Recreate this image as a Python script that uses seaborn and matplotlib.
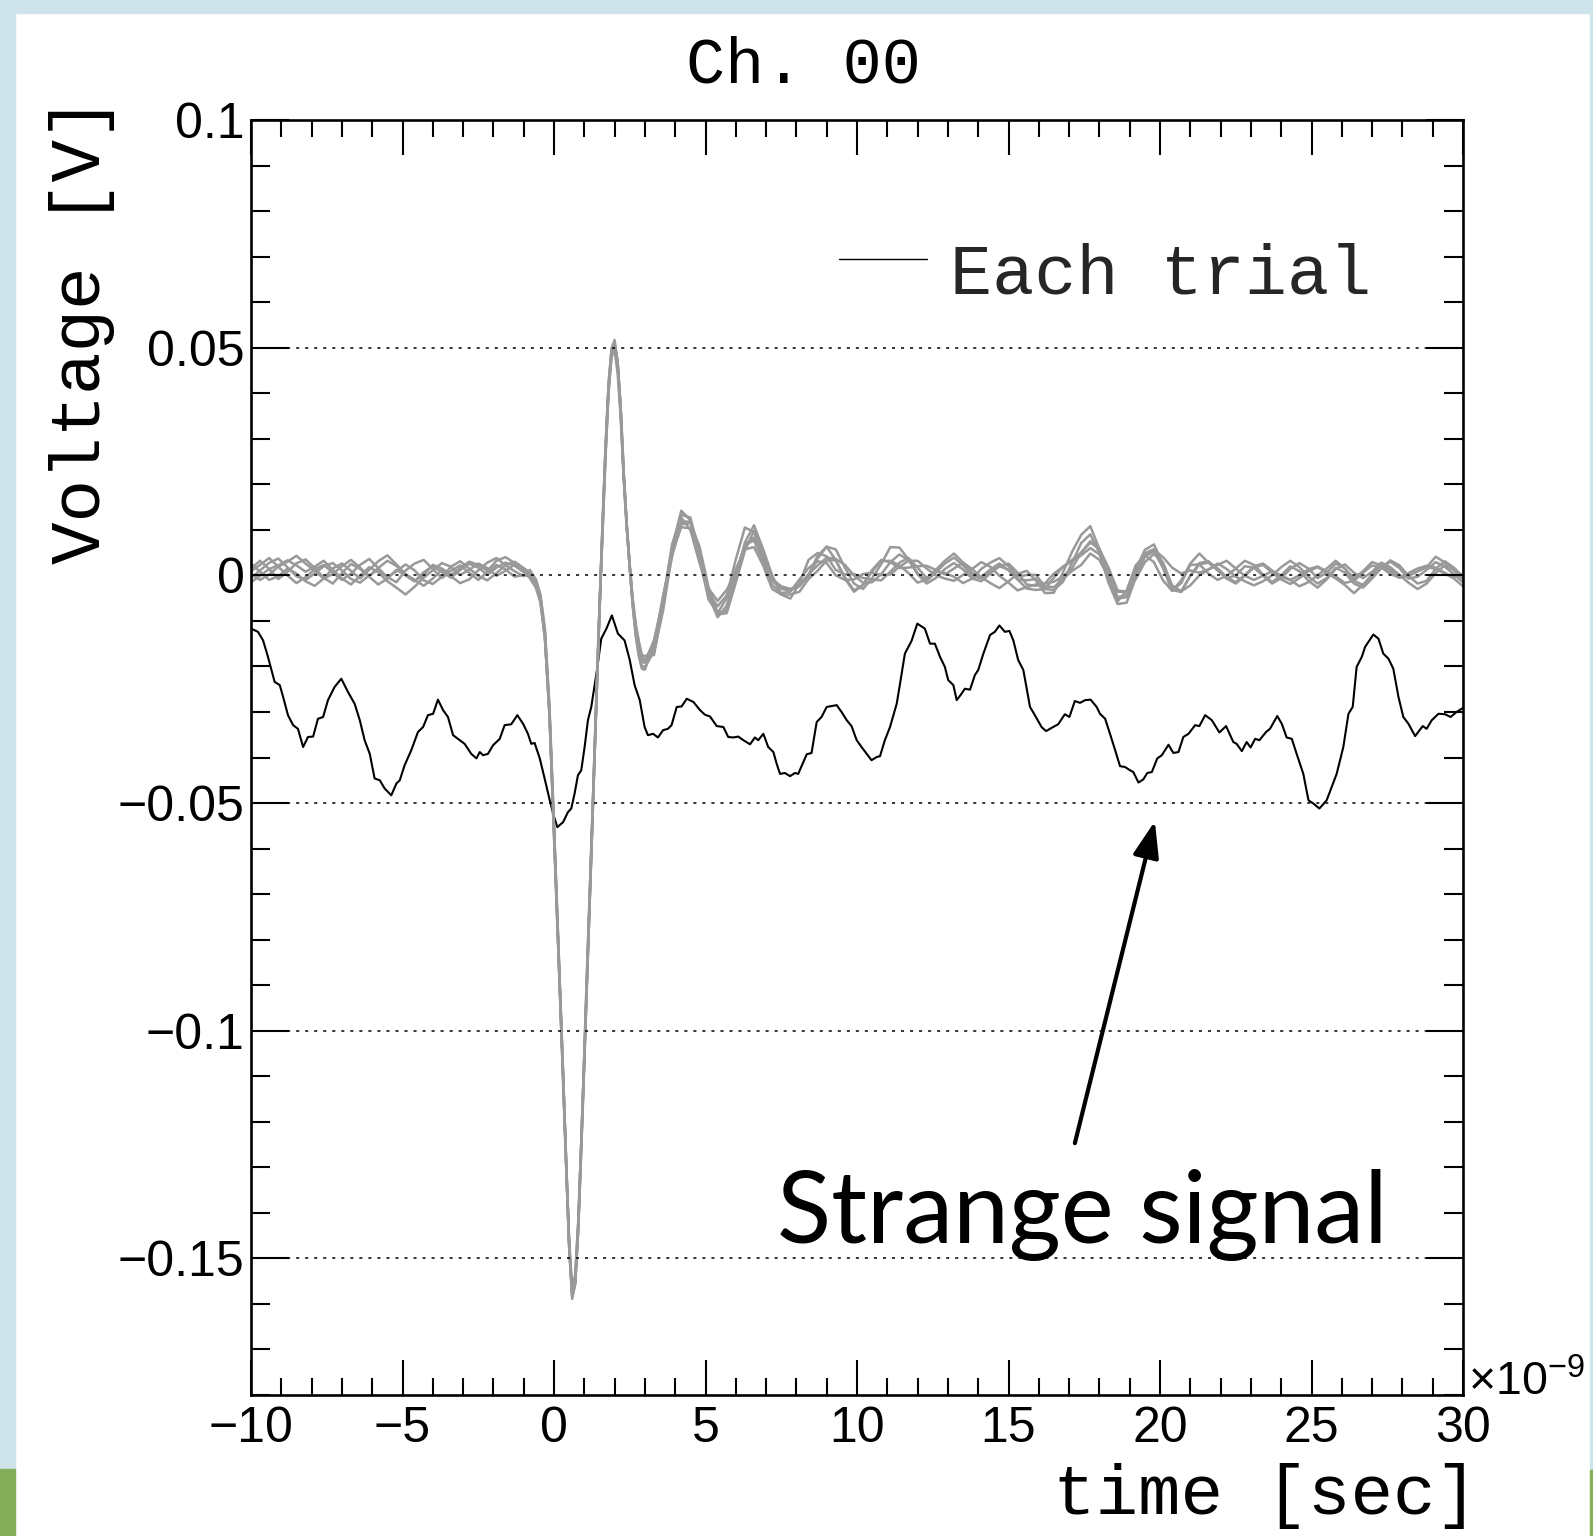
import numpy as np
import pandas as pd
import seaborn as sns
import matplotlib
matplotlib.use("Agg")
import matplotlib.pyplot as plt
from matplotlib.lines import Line2D
from matplotlib.patches import Rectangle
from matplotlib.ticker import MultipleLocator
from matplotlib.font_manager import FontProperties

# ---------------- data (time in ns, voltage in V) ----------------
# "Strange signal" (black trace)
strange_t = [-10.0, -9.77, -9.60, -9.44, -9.22, -9.05, -8.94, -8.78, -8.61, -8.45, -8.28, -8.12, -7.95, -7.79,
             -7.62, -7.46, -7.24, -7.02, -6.80, -6.58, -6.41, -6.25, -6.08, -5.92, -5.75, -5.59, -5.37, -5.20,
             -5.09, -4.93, -4.71, -4.49, -4.32, -4.16, -3.99, -3.83, -3.66, -3.50, -3.33, -3.17, -2.95, -2.73,
             -2.56, -2.45, -2.34, -2.18, -2.01, -1.79, -1.63, -1.41, -1.21, -1.02, -0.86, -0.75, -0.64, -0.47,
             -0.31, -0.14, -0.03, 0.11, 0.30, 0.46, 0.57, 0.68, 0.79, 0.90, 1.01, 1.12, 1.23, 1.40, 1.56, 1.73,
             1.91, 2.11, 2.33, 2.50, 2.66, 2.83, 2.99, 3.10, 3.27, 3.43, 3.60, 3.76,
             3.88, 4.05, 4.21, 4.38, 4.60, 4.82, 4.98, 5.15, 5.37, 5.59, 5.75, 5.92, 6.08, 6.25, 6.47, 6.63,
             6.74, 6.91, 7.07, 7.24, 7.35, 7.46, 7.62, 7.79, 7.95, 8.06, 8.34, 8.50, 8.67, 8.83, 9.00, 9.33,
             9.49, 9.66, 9.82, 9.99, 10.15, 10.48, 10.65, 10.76, 10.92, 11.09, 11.31, 11.42, 11.58, 11.80,
             11.99, 12.24, 12.41, 12.57, 12.74, 12.90, 13.01, 13.18, 13.29, 13.45, 13.56, 13.73, 13.89, 14.00,
             14.17, 14.39, 14.55, 14.70, 14.88, 15.03, 15.16, 15.32, 15.49, 15.71, 15.87, 16.09, 16.24, 16.42,
             16.64, 16.86, 17.01, 17.19, 17.36,
             17.53, 17.71, 17.91, 18.02, 18.19, 18.35, 18.52, 18.68, 18.85, 19.01, 19.12, 19.29, 19.45, 19.58,
             19.73, 19.91, 20.06, 20.28, 20.44, 20.61, 20.77, 20.94, 21.16, 21.30, 21.49, 21.71, 21.96, 22.18,
             22.42, 22.53, 22.70, 22.86, 22.99, 23.14, 23.28, 23.50, 23.63, 23.87, 24.02, 24.18, 24.35, 24.51,
             24.73, 24.90, 25.06, 25.26, 25.50, 25.83, 26.05, 26.22, 26.36, 26.49, 26.66, 26.77, 27.04, 27.21,
             27.37, 27.54, 27.70, 27.87, 28.03, 28.20, 28.42, 28.67, 28.80, 28.97, 29.19, 29.41, 29.59, 29.79,
             30.0]
strange_v = [-0.0117, -0.0124, -0.0143, -0.0179, -0.0234, -0.0241, -0.0267, -0.0307, -0.0329, -0.0337, -0.0377,
             -0.0355, -0.0354, -0.0315, -0.0311, -0.0274, -0.0245, -0.0227, -0.0256, -0.0282, -0.0318, -0.0362,
             -0.0392, -0.0446, -0.0450, -0.0468, -0.0483, -0.0457, -0.0450, -0.0417, -0.0384, -0.0344, -0.0333,
             -0.0307, -0.0304, -0.0273, -0.0296, -0.0311, -0.0351, -0.0359, -0.0370, -0.0392, -0.0402, -0.0388,
             -0.0395, -0.0392, -0.0373, -0.0359, -0.0329, -0.0327, -0.0307, -0.0326, -0.0348, -0.0370, -0.0368,
             -0.0402, -0.0446, -0.0494, -0.0523, -0.0553, -0.0542, -0.0520, -0.0512, -0.0479, -0.0439, -0.0428,
             -0.0377, -0.0318, -0.0289, -0.0216, -0.0139, -0.0117, -0.0088, -0.0128, -0.0143, -0.0186, -0.0241,
             -0.0274, -0.0333, -0.0351, -0.0348, -0.0356, -0.0340, -0.0337,
             -0.0329, -0.0289, -0.0288, -0.0271, -0.0278, -0.0296, -0.0306, -0.0310, -0.0331, -0.0333, -0.0355,
             -0.0356, -0.0354, -0.0362, -0.0371, -0.0356, -0.0362, -0.0348, -0.0377, -0.0388, -0.0414, -0.0436,
             -0.0434, -0.0441, -0.0434, -0.0436, -0.0393, -0.0390, -0.0322, -0.0311, -0.0289, -0.0285, -0.0300,
             -0.0318, -0.0331, -0.0362, -0.0377, -0.0406, -0.0399, -0.0397, -0.0362, -0.0333, -0.0282, -0.0238,
             -0.0172, -0.0144, -0.0106, -0.0117, -0.0150, -0.0150, -0.0179, -0.0201, -0.0230, -0.0241, -0.0274,
             -0.0260, -0.0249, -0.0251, -0.0219, -0.0208, -0.0172, -0.0131, -0.0124, -0.0110, -0.0124, -0.0122,
             -0.0143, -0.0186, -0.0208, -0.0289, -0.0307, -0.0333, -0.0342, -0.0335, -0.0327, -0.0305, -0.0311,
             -0.0276, -0.0280,
             -0.0274, -0.0273, -0.0289, -0.0304, -0.0315, -0.0348, -0.0384, -0.0419, -0.0421, -0.0428, -0.0432,
             -0.0455, -0.0448, -0.0434, -0.0432, -0.0402, -0.0395, -0.0372, -0.0390, -0.0388, -0.0355, -0.0348,
             -0.0329, -0.0331, -0.0307, -0.0318, -0.0345, -0.0331, -0.0366, -0.0370, -0.0386, -0.0366, -0.0378,
             -0.0359, -0.0362, -0.0344, -0.0337, -0.0309, -0.0326, -0.0356, -0.0359, -0.0392, -0.0436, -0.0494,
             -0.0501, -0.0512, -0.0494, -0.0436, -0.0377, -0.0304, -0.0289, -0.0201, -0.0179, -0.0157, -0.0130,
             -0.0139, -0.0172, -0.0183, -0.0205, -0.0267, -0.0311, -0.0326, -0.0353, -0.0331, -0.0337, -0.0318,
             -0.0304, -0.0305, -0.0311, -0.0300, -0.0291]

# Normal trials (grey): common time grid in three segments
t_pre = np.round(np.arange(-10.0, -0.95, 0.3), 2)          # 31 samples
t_pulse = [-0.8, -0.6, -0.45, -0.3, -0.15, 0.0, 0.1, 0.2, 0.3, 0.4, 0.5, 0.6, 0.7, 0.8, 0.9, 1.0,
           1.1, 1.2, 1.3, 1.4, 1.5, 1.6, 1.7, 1.8, 1.9, 2.0, 2.1, 2.2, 2.3, 2.4, 2.5, 2.6, 2.7, 2.8,
           2.9, 3.0]                                        # 36 samples
t_post = np.round(np.arange(3.3, 30.05, 0.3), 2)          # 90 samples

# average trial waveform (V)
mean_pre = [0.0003, 0.0005, 0.0005, 0.0004, 0.0003, 0.0004, 0.0005, 0.0004, 0.0002, 0.0, 0.0002,
            0.0004, 0.0005, 0.0003, 0.0001, 0.0002, 0.0003, 0.0003, 0.0002, 0.0001, 0.0002, 0.0003,
            0.0004, 0.0004, 0.0003, 0.0005, 0.0007, 0.0008, 0.0007, 0.0006, 0.0004]
mean_pulse = [0.0003, -0.0015, -0.005, -0.013, -0.030, -0.056, -0.074, -0.092, -0.110, -0.129, -0.147,
              -0.158, -0.155, -0.143, -0.125, -0.106, -0.086, -0.067, -0.047, -0.027, -0.008, 0.010,
              0.027, 0.041, 0.049, 0.0505, 0.046, 0.036, 0.022, 0.011, 0.002, -0.006, -0.012, -0.016,
              -0.019, -0.0195]
mean_post = [-0.016, -0.006, 0.0054, 0.0121, 0.0109, 0.0043, -0.0035, -0.0077, -0.0062, -0.001, 0.0045,
             0.0068, 0.004, 0.0, -0.003, -0.0048, -0.003, 0.001, 0.004, 0.0048, 0.003, 0.0005, -0.0012,
             -0.0012, 0.0, 0.001, 0.002, 0.0025, 0.002, 0.0008, 0.0, 0.0003, 0.0008, 0.0012, 0.001, 0.0005,
             0.0008, 0.001, 0.0008, 0.0005, 0.0, -0.0008, -0.002, -0.0033, -0.002, 0.001, 0.004, 0.0065,
             0.0072, 0.004, -0.001, -0.0045, -0.003, 0.001, 0.0038, 0.0038, 0.001, -0.0025, -0.002, 0.0005,
             0.0015, 0.001, 0.0008, 0.0005, 0.0003, 0.0005, 0.0008, 0.0005, 0.0, 0.0003, 0.0005, 0.0003, 0.0,
             -0.0003, 0.0, 0.0005, 0.0003, -0.0003, 0.0, 0.0005, 0.001, 0.0012, 0.001, 0.0005, 0.0, -0.0003,
             0.0005, 0.001, 0.0008, 0.0]

# per-trial deviation from the average, in units of 0.15 mV
NOISE_UNIT = 1.5e-4
trial1_dev = ([8, 18, 6, -8, 3, 15, 20, 8, -5, -12, 2, 14, 6, -3, 10, 20, 12, -2, -10, 4, 12, 3, -6, 5, 15, 8, -4, 6, 14, 10, 2]
              + [4, 2, 0, -3, -6, -8, -6, -4, -2, 0, 2, 4, 6, 4, 2, 0, -4, -6, -6, -4, -2, 0, 2, 4, 6, 8, 6, 4, 2, 0, -2, -4, -6, -8, -6, -4]
              + [-5, -12, -4, 8, 12, 5, -6, -10, -3, 8, 15, 10, -2, -8, 0, 10, 6, -5, -12, -6, 4, 12, 8, -3, -10, -5, 6, 14, 9, -2,
                 -8, 2, 12, 18, 8, -4, -10, -2, 8, 5, -6, -14, -8, 2, 10, 6, -4, -10, 0, 12, 8, -2, -9, -3, 7, 13, 6, -5, -11, -4,
                 6, 12, 5, -6, -12, -3, 8, 14, 7, -4, -10, -2, 9, 15, 6, -5, -13, -6, 4, 11, 5, -6, -10, 0, 10, 16, 8, -3, -8, 2])
trial2_dev = ([-6, 4, 15, 22, 10, -4, -10, 0, 12, 18, 6, -8, -14, -2, 8, -4, -12, 5, 16, 22, 8, -6, 4, 12, 2, -10, 0, 10, 4, -6, -2]
              + [-4, -2, 2, 6, 8, 10, 8, 6, 4, 2, 0, -2, -4, -6, -8, -6, -2, 2, 6, 8, 6, 4, 0, -4, -6, -8, -10, -8, -6, -4, 0, 4, 8, 10, 8, 6]
              + [8, 4, 10, 4, -6, -10, -2, 6, 12, 30, 40, 18, 4, -6, 4, 12, 4, -8, -2, 10, 18, 8, -4, -12, -4, 10, 28, 24, 10, -4,
                 -12, -6, 4, 10, 2, -8, -14, -4, 8, 14, 4, -8, -2, 10, 16, 6, -6, -14, -8, 4, 12, 6, -4, 2, 12, 20, 10, -2, -10, -4,
                 8, 14, 4, -8, -2, 10, 6, -4, -12, -6, 6, 16, 10, -2, 4, 14, 8, -6, -14, -6, 4, 12, 4, -8, -2, 10, 16, 6, -4, -10])
trial3_dev = ([15, 2, -10, -4, 8, 0, -12, -18, -6, 10, 16, 4, -8, 6, 20, 28, 14, 0, -8, -16, -6, 6, -4, -14, -8, 4, 14, 20, 10, 2, -4]
              + [6, 4, 2, 0, -2, -4, -2, 0, 2, 4, 6, 8, 10, 8, 4, 0, -2, -4, -2, 0, 2, 4, 6, 4, 2, 0, -2, -4, -2, 0, 2, 4, 6, 8, 10, 12]
              + [-10, -4, 6, 14, 8, -2, 4, 14, 20, 10, 14, 6, -6, -14, -6, 8, 14, 4, -6, -14, -20, -10, 2, 10, 4, -6, -12, -4, 8, 16,
                 10, -2, -10, -16, -6, 6, 14, 6, -6, -14, -22, -12, 0, 10, 4, -8, -16, -10, 2, 12, 18, 8, -4, -12, -6, 6, 12, 2, -10, -18,
                 -10, 2, 12, 6, -4, -12, -20, -12, 0, 10, 18, 10, -2, -10, -4, 8, 2, -10, -18, -8, 4, 14, 8, -4, -12, -6, 6, 14, 6, -2])
trial4_dev = ([-12, -4, 6, 12, 20, 12, 2, 10, 20, 8, -6, -16, -4, 10, 4, -10, -20, -30, -18, -4, 6, 16, 10, -2, 6, 14, 6, -6, 2, 12, 6]
              + [-6, -8, -6, -4, 0, 4, 6, 8, 6, 4, 2, 0, -2, -4, -6, -8, -10, -8, -4, 0, 4, 8, 10, 8, 4, 2, 4, 6, 4, 2, -2, -6, -10, -12, -10, -8]
              + [6, 10, -4, -10, -4, 8, 2, -6, -14, -4, 6, 20, 8, -4, 2, 12, 6, -6, 2, 10, 2, -8, -16, -6, 8, 16, 6, -6, -2, 8,
                 14, 6, -4, 2, 12, 6, -8, -18, -24, -12, 2, 12, 6, -4, -12, -2, 8, 16, 24, 12, 2, -8, -2, 8, 4, -6, -14, -6, 6, 14,
                 22, 12, 2, -8, -14, -4, 6, 12, 4, -8, -16, -6, 6, 14, 4, -8, -16, -24, -14, -2, 8, 2, -8, -4, 6, 14, 24, 12, 2, -6])
trial5_dev = ([4, 12, 22, 10, -2, -14, -6, 6, 14, 4, -8, 0, 12, 22, 10, -4, 4, 14, 6, -8, -14, -4, 10, 18, 8, -4, -12, -2, 10, 16, 8]
              + [2, 4, 6, 8, 6, 2, -2, -6, -8, -6, -4, -2, 0, 2, 4, 6, 8, 6, 2, -2, -4, -6, -4, -2, 0, 2, 4, 2, 0, -2, -4, -2, 0, 2, 4, 6]
              + [-4, 6, 2, -6, 4, 14, 6, -4, -10, 4, 18, 28, 12, 0, -8, -2, 8, 16, 6, -4, -12, -2, 10, 4, -6, -14, -8, 2, 12, 6,
                 -4, 6, 16, 24, 12, 0, -8, 2, 12, 4, -6, -2, 8, 2, -8, -16, -8, 4, 12, 6, -4, -12, -20, -10, 2, 10, 4, -6, 2, 12,
                 6, -4, -12, -4, 8, 18, 10, -2, -10, -2, 10, 4, -8, -16, -6, 6, 14, 6, -4, 2, 12, 4, -6, -14, -20, -10, 0, 8, 2, -4])
trial6_dev = ([0, -10, -2, 10, 18, 26, 14, 4, -6, 2, 12, 20, 8, -4, -14, -6, 6, -2, -10, 0, 14, 8, -2, 8, 18, 12, 2, 16, 22, 14, 4]
              + [0, -2, -4, -6, -4, 0, 4, 2, 0, -2, -4, -6, -4, -2, 2, 6, 10, 12, 8, 4, 0, -4, -8, -6, -2, 2, 6, 8, 6, 2, 0, -2, -4, -2, 0, 2]
              + [12, 2, -8, -2, 6, -4, -12, -4, 8, 16, 8, -4, -12, -20, -8, 4, -4, -12, -20, -10, 2, -6, -14, -6, 6, 14, 8, -2, -10, -16,
                 -6, 4, -2, -10, -18, -8, 4, 12, 20, 10, -2, 6, 14, 6, -4, -12, -20, -28, -16, -4, 4, -4, -12, -6, 4, 12, 20, 28, 16, 4,
                 -6, 2, 10, 18, 8, -4, -12, -4, 6, -2, -10, -18, -10, 2, 10, 18, 8, -2, 6, 16, 8, -2, -10, -4, 6, 14, 6, -4, -10, -16])

# axis ticks
xticks = [-10, -5, 0, 5, 10, 15, 20, 25, 30]
xticklabels = ["\u221210", "\u22125", "0", "5", "10", "15", "20", "25", "30"]
yticks = [-0.15, -0.1, -0.05, 0.0, 0.05, 0.1]
yticklabels = ["\u22120.15", "\u22120.1", "\u22120.05", "0", "0.05", "0.1"]

# ---------------- build data frames ----------------
t_gray = np.concatenate([t_pre, np.array(t_pulse), t_post])
mean_gray = np.array(mean_pre + mean_pulse + mean_post)
trials = [trial1_dev, trial2_dev, trial3_dev, trial4_dev, trial5_dev, trial6_dev]
frames = []
for k, dev in enumerate(trials):
    assert len(dev) == len(t_gray) == len(mean_gray), (k, len(dev), len(t_gray), len(mean_gray))
    frames.append(pd.DataFrame({"time": t_gray,
                                "voltage": mean_gray + np.array(dev) * NOISE_UNIT,
                                "trial": k}))
df_gray = pd.concat(frames, ignore_index=True)
df_strange = pd.DataFrame({"time": strange_t, "voltage": strange_v})

# ---------------- style ----------------
sns.set_theme(style="white")
plt.rcParams["font.family"] = ["Liberation Sans", "DejaVu Sans"]
plt.rcParams["lines.scale_dashes"] = False
plt.rcParams["mathtext.fontset"] = "custom"
plt.rcParams["mathtext.rm"] = "Liberation Sans"
plt.rcParams["mathtext.it"] = "Liberation Sans:italic"
plt.rcParams["mathtext.bf"] = "Liberation Sans:bold"

W, H = 1593, 1536
fig = plt.figure(figsize=(W / 100, H / 100), dpi=100, facecolor="white")

# slide-like coloured borders
blue = "#cee3e9"
green = "#84ae5a"
fig.add_artist(Rectangle((0, 1 - 13 / H), 1, 13 / H, transform=fig.transFigure, color=blue, zorder=-5))
fig.add_artist(Rectangle((0, 67 / H), 15 / W, 1 - 67 / H, transform=fig.transFigure, color=blue, zorder=-5))
fig.add_artist(Rectangle((0, 0), 15 / W, 67 / H, transform=fig.transFigure, color=green, zorder=-5))
fig.add_artist(Rectangle((1590 / W, 66 / H), 3 / W, 1 - 66 / H, transform=fig.transFigure, color=blue, zorder=-5))
fig.add_artist(Rectangle((1590 / W, 0), 3 / W, 66 / H, transform=fig.transFigure, color=green, zorder=-5))

ax = fig.add_axes([251 / W, 1 - 1395 / H, (1463 - 251) / W, (1395 - 120) / H])
ax.set_facecolor("white")

sns.lineplot(data=df_strange, x="time", y="voltage", color="black", linewidth=1.5,
             sort=False, ax=ax, legend=False, zorder=2)
sns.lineplot(data=df_gray, x="time", y="voltage", units="trial", estimator=None,
             color="#999999", linewidth=1.8, sort=False, ax=ax, legend=False, zorder=2.2)

ax.set_xlim(-10, 30)
ax.set_ylim(-0.18, 0.1)

ax.set_xticks(xticks)
ax.set_xticklabels(xticklabels)
ax.set_yticks(yticks)
ax.set_yticklabels(yticklabels)
ax.xaxis.set_minor_locator(MultipleLocator(1))
ax.yaxis.set_minor_locator(MultipleLocator(0.01))

ax.tick_params(which="both", direction="in", top=True, right=True, bottom=True, left=True,
               width=1.5, color="black")
ax.tick_params(axis="x", which="major", length=25, pad=8, labelsize=36)
ax.tick_params(axis="x", which="minor", length=12)
ax.tick_params(axis="y", which="major", length=27, pad=4.5, labelsize=36)
ax.tick_params(axis="y", which="minor", length=14)
for lab in ax.get_xticklabels() + ax.get_yticklabels():
    lab.set_fontfamily("Liberation Sans")
    lab.set_color("black")

for sp in ax.spines.values():
    sp.set_visible(True)
    sp.set_color("black")
    sp.set_linewidth(1.9)

ax.yaxis.grid(True, which="major", color="black", linewidth=1.1, linestyle=(0, (2.2, 4.3)))
ax.xaxis.grid(False)
ax.set_axisbelow(False)

mono = "Liberation Mono"
ax.set_xlabel("time [sec]", fontfamily=mono, fontsize=51, color="black")
ax.xaxis.label.set(ha="right", va="center")
ax.xaxis.set_label_coords((1478 - 251) / 1212, -(1496 - 1395) / 1275)
ax.set_ylabel("Voltage [V]", fontfamily=mono, fontsize=51, color="black")
ax.yaxis.label.set(rotation_mode="default", ha="center", va="top")
ax.yaxis.set_label_coords((82 - 251) / 1212, (1395 - 96) / 1275)

ax.set_title("Ch. 00", fontfamily=mono, fontsize=47, color="black",
             x=(803 - 251) / 1212, y=(1395 - 74) / 1275, va="center")

# x10^-9 exponent marker
ax.text(1.004, 0.0, r"$\times10^{-9}$", transform=ax.transAxes, ha="left", va="baseline",
        fontsize=33.5, color="black")

# legend
leg = ax.legend(handles=[Line2D([], [], color="black", linewidth=1.0)], labels=["Each trial"],
                frameon=False, prop=FontProperties(family=mono, size=50.5),
                handlelength=1.25, handletextpad=0.33, loc="center left",
                bbox_to_anchor=(839 / W, 1 - 275 / H), bbox_transform=fig.transFigure,
                borderpad=0, borderaxespad=0)
legline = leg.get_lines()[0]
legline.set_ydata(np.asarray(legline.get_ydata()) + 7.0)

# annotation
ax.annotate("", xy=(19.83, -0.054), xytext=(17.19, -0.1247),
            arrowprops=dict(arrowstyle="-|>,head_length=0.55,head_width=0.2", lw=3.0,
                            color="black", shrinkA=0, shrinkB=0, mutation_scale=40))
ax.text(7.36, -0.1467, "Strange signal", fontfamily="Lato", fontsize=72, color="black",
        ha="left", va="baseline")

fig.savefig("out.png", dpi=100, facecolor="white")
